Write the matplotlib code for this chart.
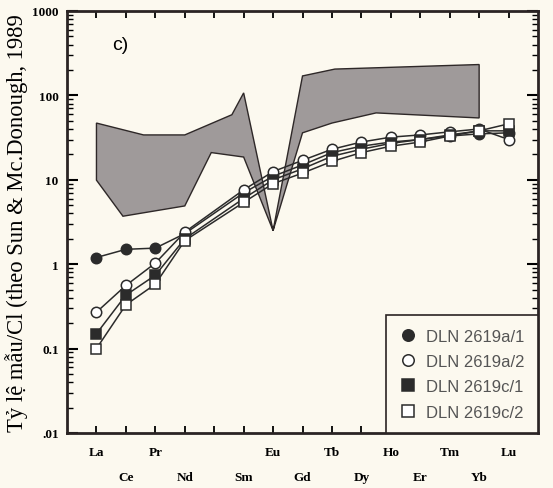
import numpy as np
import matplotlib
matplotlib.use("Agg")
import matplotlib.pyplot as plt
from matplotlib.ticker import LogLocator, NullFormatter, FixedLocator

# Nguyen to dat hiem (Pm khong co so lieu)
nguyen_to = ['La', 'Ce', 'Pr', 'Nd', 'Pm', 'Sm', 'Eu', 'Gd', 'Tb', 'Dy', 'Ho', 'Er', 'Tm', 'Yb', 'Lu']
ree = ['La', 'Ce', 'Pr', 'Nd', 'Sm', 'Eu', 'Gd', 'Tb', 'Dy', 'Ho', 'Er', 'Tm', 'Yb', 'Lu']

dln_a1 = [1.2, 1.5, 1.55, 2.3, 7.0, 11.0, 15.0, 21.0, 25.0, 28.0, 30.0, 33.0, 35.0, 36.0]
dln_a2 = [0.27, 0.56, 1.03, 2.4, 7.6, 12.5, 17.0, 23.0, 28.0, 32.0, 34.0, 37.0, 40.0, 30.0]
dln_c1 = [0.15, 0.43, 0.74, 2.0, 6.0, 10.0, 13.5, 19.0, 23.0, 27.0, 30.0, 34.0, 38.0, 38.0]
dln_c2 = [0.10, 0.33, 0.58, 1.9, 5.4, 9.0, 12.0, 16.5, 21.0, 25.0, 28.0, 33.0, 38.0, 46.0]

# Truong so sanh (dinh da giac, theo vi tri nguyen to)
truong_x = [0, 1.6, 3, 4.6, 5, 6, 7, 8.1, 13, 13, 9.5, 8, 7, 6, 5, 3.9, 3, 0.9, 0]
truong_y = [47, 34, 34, 59, 107, 2.5, 170, 205, 232, 54, 62, 47, 36, 2.5, 18.6, 21, 4.9, 3.7, 9.9]

chu_thich = ['DLN 2619a/1', 'DLN 2619a/2', 'DLN 2619c/1', 'DLN 2619c/2']

nen = '#fcf9ef'
fig = plt.figure(figsize=(5.53, 4.89), dpi=100, facecolor=nen)
ax = fig.add_axes([0.1212, 0.1125, 0.8517, 0.863], facecolor=nen)

xr = [nguyen_to.index(e) for e in ree]

ax.fill(truong_x, truong_y, facecolor='#9f9a9a', edgecolor='#2e2828', lw=1.0, zorder=1)

kieu = [dict(marker='o', mfc='#2b2b2b'), dict(marker='o', mfc='white'),
        dict(marker='s', mfc='#2b2b2b'), dict(marker='s', mfc='white')]
for vals, k, ten in zip([dln_a1, dln_a2, dln_c1, dln_c2], kieu, chu_thich):
    ax.plot(xr, vals, color='#2b2b2b', lw=1.1, ms=7.5, mec='#2b2b2b', mew=1.1,
            label=ten, zorder=3, **k)

ax.set_yscale('log')
ax.set_ylim(0.01, 1000)
ax.set_xlim(-1, 15)

ax.yaxis.set_minor_locator(LogLocator(base=10, subs=np.arange(2, 10), numticks=10))
ax.yaxis.set_minor_formatter(NullFormatter())
ax.set_yticks([0.01, 0.1, 1, 10, 100, 1000])
ax.set_yticklabels(['.01', '0.1', '1', '10', '100', '1000'],
                   fontfamily='Liberation Serif', fontweight='bold', fontsize=9.5)
ax.tick_params(axis='y', which='major', direction='in', length=8, width=1.5,
               left=True, right=True, pad=6)
ax.tick_params(axis='y', which='minor', direction='in', length=4, width=1.0,
               left=True, right=True)

ax.xaxis.set_major_locator(FixedLocator(range(len(nguyen_to))))
ax.set_xticklabels([])
ax.tick_params(axis='x', which='major', direction='in', length=5, width=1.3,
               top=True, bottom=True)

for i, e in enumerate(nguyen_to):
    if e == 'Pm':
        continue
    yoff = -0.045 if i % 2 == 0 else -0.105
    ax.text(i, yoff, e, transform=ax.get_xaxis_transform(), ha='center', va='center',
            fontfamily='Liberation Serif', fontweight='bold', fontsize=9.5)

for s in ax.spines.values():
    s.set_linewidth(2)
    s.set_color('#2b2424')

ax.set_ylabel('Tỷ lệ mẫu/Cl (theo Sun & Mc.Donough, 1989', fontfamily='Liberation Serif',
              fontsize=16.3, labelpad=3)
ax.text(0.095, 0.92, 'c)', transform=ax.transAxes, fontfamily='Liberation Sans',
        fontsize=14, va='center')

leg = ax.legend(loc='lower right', prop={'family': 'Liberation Sans', 'size': 12},
                frameon=True, fancybox=False, borderaxespad=0, handletextpad=0.6,
                labelspacing=0.62, borderpad=0.8, handlelength=1.0, markerscale=1.1)
leg.get_frame().set_edgecolor('#2b2424')
leg.get_frame().set_linewidth(1.2)
leg.get_frame().set_facecolor(nen)
leg.get_frame().set_alpha(1)
for t in leg.get_texts():
    t.set_color('#555555')
for h in leg.legend_handles:
    h.set_linestyle('None')

fig.savefig('out.png', dpi=100, facecolor=nen)
